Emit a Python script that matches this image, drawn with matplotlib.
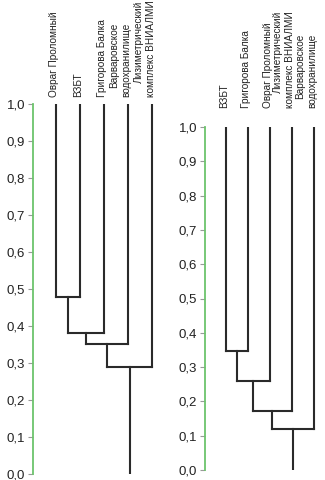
import matplotlib
matplotlib.use('Agg')
import matplotlib.pyplot as plt
import matplotlib.transforms as mtransforms

plt.rcParams['font.family'] = ['Liberation Sans', 'DejaVu Sans']

# левая дендрограмма
left_labels = ['Овраг Проломный', 'ВЗБТ', 'Григорова Балка',
               'Варваровское\nводохранилище',
               'Лизиметрический\nкомплекс ВНИАЛМИ']
left_heights = [0.478, 0.381, 0.351, 0.29]

# правая дендрограмма
right_labels = ['ВЗБТ', 'Григорова Балка', 'Овраг Проломный',
                'Лизиметрический\nкомплекс ВНИАЛМИ',
                'Варваровское\nводохранилище']
right_heights = [0.348, 0.259, 0.171, 0.12]

yticks = [0.0, 0.1, 0.2, 0.3, 0.4, 0.5, 0.6, 0.7, 0.8, 0.9, 1.0]
ytick_labels = ['0,0', '0,1', '0,2', '0,3', '0,4', '0,5', '0,6', '0,7', '0,8', '0,9', '1,0']

line_color = '#2a2a2a'
spine_color = '#6cc46c'


def dendro(ax, labels, heights, label_gap):
    # цепочка объединений: лист 0 и 1, затем с листом 2 и т.д.
    node_x = 0.0
    node_y = 1.0
    for i, h in enumerate(heights):
        if i == 0:
            ax.plot([0, 0], [1.0, h], color=line_color, lw=1.5)
            node_x = 0.0
        else:
            ax.plot([node_x, node_x], [node_y, h], color=line_color, lw=1.5)
        leaf = i + 1
        ax.plot([leaf, leaf], [1.0, h], color=line_color, lw=1.5)
        ax.plot([node_x, leaf], [h, h], color=line_color, lw=1.5)
        node_x = (node_x + leaf) / 2
        node_y = h
    ax.plot([node_x, node_x], [node_y, 0.0], color=line_color, lw=1.5)

    offset = mtransforms.ScaledTranslation(2.5 / 72, label_gap / 72, ax.figure.dpi_scale_trans)
    for i, lab in enumerate(labels):
        ax.text(i, 1.0, lab, rotation=90, ha='right', va='bottom',
                fontsize=7.2, color='#222222', linespacing=1.25,
                transform=ax.transData + offset)

    ax.set_ylim(0, 1)
    ax.set_xlim(-0.95, 4.45)
    ax.set_yticks(yticks)
    ax.set_yticklabels(ytick_labels)
    ax.set_xticks([])
    for s in ['top', 'right', 'bottom']:
        ax.spines[s].set_visible(False)
    ax.spines['left'].set_color(spine_color)
    ax.spines['left'].set_linewidth(1.3)
    ax.tick_params(axis='y', length=3.5, width=0.8, color='#999999',
                   labelsize=9.5, labelcolor='#222222', pad=2)
    ax.patch.set_alpha(0)


fig = plt.figure(figsize=(3.25, 4.8), dpi=100)

ax1 = fig.add_axes([33 / 325, 6 / 480, 130 / 325, 370 / 480])
dendro(ax1, left_labels, left_heights, 5)

ax2 = fig.add_axes([204.7 / 325, 10 / 480, 119 / 325, 343 / 480])
dendro(ax2, right_labels, right_heights, 14)

fig.savefig('out.png', dpi=100)
